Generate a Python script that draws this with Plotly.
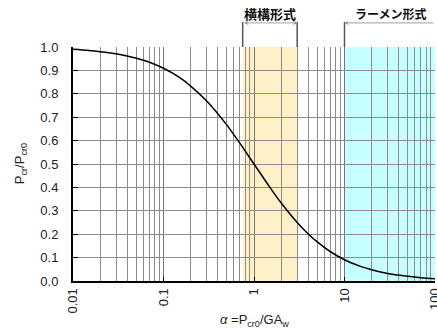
import plotly.graph_objects as go
import math

# data
alpha = [0.01, 0.015, 0.02, 0.03, 0.05, 0.07, 0.1, 0.15, 0.2, 0.3, 0.4, 0.5, 0.7,
         1.0, 1.5, 2.0, 3.0, 4.0, 5.0, 7.0, 10.0, 15.0, 20.0, 30.0, 50.0, 70.0, 100.0]
ratio = [0.990, 0.985, 0.980, 0.971, 0.952, 0.935, 0.909, 0.870, 0.833, 0.769, 0.714,
         0.667, 0.588, 0.500, 0.400, 0.333, 0.250, 0.200, 0.167, 0.125, 0.091, 0.0625,
         0.048, 0.032, 0.020, 0.014, 0.010]

x_major = [0.01, 0.1, 1, 10, 100]
x_major_text = ["0.01", "0.1", "1", "10", "100"]
x_minor = [m * d for d in [0.01, 0.1, 1, 10] for m in range(2, 10)]
y_ticks = [round(i * 0.1, 1) for i in range(11)]

zone_yokokou = [0.75, 3.0]   # 横構形式
zone_rahmen = [10.0, 100.0]  # ラーメン形式
label_yokokou = "横構形式"
label_rahmen = "ラーメン形式"
x_title = "<i>α</i> =P<sub>cr0</sub>/GA<sub>w</sub>"
y_title = "P<sub>cr</sub>/P<sub>cr0</sub>"

fontfam = "Liberation Sans, Arial, sans-serif"
jpfont = "Noto Sans CJK JP"
txt = "#222222"

fig = go.Figure()
fig.add_trace(go.Scatter(x=alpha, y=ratio, mode="lines", line=dict(color="black", width=1.5, shape="spline"),
                         showlegend=False, hoverinfo="skip"))

shapes = []
shapes.append(dict(type="rect", xref="x", yref="y", x0=zone_yokokou[0], x1=zone_yokokou[1], y0=0, y1=1,
                   fillcolor="#FFF0C8", line=dict(width=0), layer="below"))
shapes.append(dict(type="rect", xref="x", yref="y", x0=zone_rahmen[0], x1=zone_rahmen[1], y0=0, y1=1,
                   fillcolor="#C6FFFF", line=dict(width=0), layer="below"))
for xv in [zone_yokokou[0], zone_yokokou[1], zone_rahmen[0]]:
    shapes.append(dict(type="line", xref="x", yref="paper", x0=xv, x1=xv, y0=1.0, y1=1.107,
                       line=dict(color="#555555", width=1.5)))
fig.update_layout(shapes=shapes)

ann = []
ann.append(dict(xref="x", yref="paper", axref="x", ayref="pixel",
                x=math.log10(zone_yokokou[1]), y=1.103, ax=math.log10(zone_yokokou[0]), ay=0,
                showarrow=True, arrowside="end+start", arrowhead=3, arrowsize=1, arrowwidth=0.8,
                arrowcolor="#888888", text=""))
ann.append(dict(xref="x", yref="paper", axref="x", ayref="pixel",
                x=math.log10(zone_rahmen[0]), y=1.103, ax=math.log10(zone_rahmen[1]), ay=0,
                showarrow=True, arrowhead=3, arrowsize=1, arrowwidth=0.8,
                arrowcolor="#888888", text=""))
ann.append(dict(xref="x", yref="paper", x=math.log10(math.sqrt(zone_yokokou[0] * zone_yokokou[1])), y=1.145,
                text="<b>" + label_yokokou + "</b>", showarrow=False, yanchor="middle",
                font=dict(family=jpfont, size=13, color="#111111")))
ann.append(dict(xref="x", yref="paper", x=math.log10(zone_rahmen[0]) + 0.09, y=1.145,
                text="<b>" + label_rahmen + "</b>", showarrow=False, yanchor="middle", xanchor="left",
                font=dict(family=jpfont, size=12, color="#111111")))
ann.append(dict(xref="paper", yref="paper", x=0.5, y=-0.167, text=x_title, showarrow=False,
                yanchor="middle", font=dict(family=fontfam, size=13, color=txt)))
ann.append(dict(xref="paper", yref="paper", x=-0.146, y=0.5, text=y_title, showarrow=False,
                textangle=-90, xanchor="center", yanchor="middle", font=dict(family=fontfam, size=13, color=txt)))
fig.update_layout(annotations=ann)

fig.update_xaxes(type="log", range=[-2, 2.0001], tickvals=x_major, ticktext=x_major_text, tickangle=-90,
                 showgrid=True, gridcolor="#777777", gridwidth=1,
                 ticks="inside", ticklen=4, tickcolor="black",
                 showline=True, linecolor="black", linewidth=2,
                 minor=dict(tickvals=x_minor, showgrid=True, gridcolor="#8c8c8c", gridwidth=1, ticks=""),
                 tickfont=dict(family=fontfam, size=13, color=txt),
                 ticklabeloverflow="allow", automargin=False,
                 zeroline=False)
fig.update_yaxes(range=[0, 1], tickvals=y_ticks, tickformat=".1f",
                 showgrid=True, gridcolor="#8c8c8c", gridwidth=1,
                 ticks="inside", ticklen=5, tickcolor="black",
                 showline=True, linecolor="black", linewidth=2,
                 tickfont=dict(family=fontfam, size=13, color=txt),
                 ticklabelstandoff=10, automargin=False,
                 zeroline=False)

fig.update_layout(width=437, height=329, margin=dict(l=73, r=2, t=47, b=48, autoexpand=False),
                  paper_bgcolor="white", plot_bgcolor="white")
fig.write_html("out.html", post_script="document.body.style.margin='0';",
               config={"displayModeBar": False})
